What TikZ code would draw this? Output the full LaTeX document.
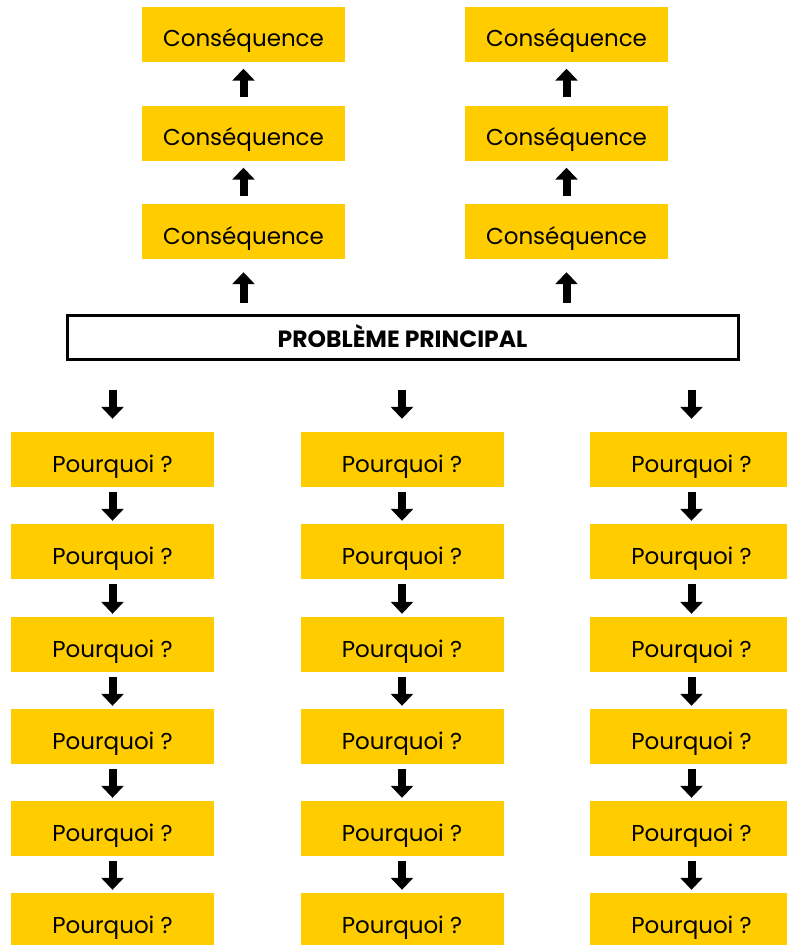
\documentclass[tikz,border=0pt]{standalone}
\usepackage{fontspec}
\setmainfont{Poppins}
\usepackage{tikz}
\usetikzlibrary{arrows.meta}
\definecolor{jaune}{RGB}{255,204,0}

\begin{document}
\begin{tikzpicture}[x=1pt,y=-1pt,
    box/.style={fill=jaune,inner sep=0pt,minimum width=203pt,minimum height=55pt,
        font=\fontsize{23}{26}\selectfont,text height=25pt,text depth=0pt},
    probbox/.style={draw=black,line width=3pt,fill=white,inner sep=0pt,minimum width=671pt,minimum height=44pt,
        font=\fontsize{23.5}{26}\selectfont\bfseries,text height=20pt,text depth=0pt},
    blk/.style={line width=8pt,-{Triangle[width=22pt,length=12pt]}}]
        \useasboundingbox (0,0) rectangle (787,945);
        \node[box] (Cons_l1) at (243.5,34) {Conséquence};
        \node[box] (Cons_l2) at (243.5,133) {Conséquence};
        \node[box] (Cons_l3) at (243.5,231.5) {Conséquence};
        \node[box] (Cons_r1) at (566.5,34) {Conséquence};
        \node[box] (Cons_r2) at (566.5,133) {Conséquence};
        \node[box] (Cons_r3) at (566.5,231.5) {Conséquence};
        \node[probbox] (Problem) at (402.5,337) {PROBLÈME PRINCIPAL};
        \node[box] (Why_l1) at (112.5,459.5) {Pourquoi ?};
        \node[box] (Why_l2) at (112.5,551.5) {Pourquoi ?};
        \node[box] (Why_l3) at (112.5,644.5) {Pourquoi ?};
        \node[box] (Why_l4) at (112.5,736.5) {Pourquoi ?};
        \node[box] (Why_l5) at (112.5,828.5) {Pourquoi ?};
        \node[box] (Why_l6) at (112.5,920.5) {Pourquoi ?};
        \node[box] (Why_m1) at (402,459.5) {Pourquoi ?};
        \node[box] (Why_m2) at (402,551.5) {Pourquoi ?};
        \node[box] (Why_m3) at (402,644.5) {Pourquoi ?};
        \node[box] (Why_m4) at (402,736.5) {Pourquoi ?};
        \node[box] (Why_m5) at (402,828.5) {Pourquoi ?};
        \node[box] (Why_m6) at (402,920.5) {Pourquoi ?};
        \node[box] (Why_r1) at (691.5,459.5) {Pourquoi ?};
        \node[box] (Why_r2) at (691.5,551.5) {Pourquoi ?};
        \node[box] (Why_r3) at (691.5,644.5) {Pourquoi ?};
        \node[box] (Why_r4) at (691.5,736.5) {Pourquoi ?};
        \node[box] (Why_r5) at (691.5,828.5) {Pourquoi ?};
        \node[box] (Why_r6) at (691.5,920.5) {Pourquoi ?};
        \draw[blk,shorten <=11pt,shorten >=13pt] (Cons_l3.south |- Problem.north) -- (Cons_l3.south);
        \draw[blk,shorten <=11pt,shorten >=13pt] (Cons_r3.south |- Problem.north) -- (Cons_r3.south);
        \draw[blk,shorten <=8pt,shorten >=7pt] (Cons_l3) -- (Cons_l2);
        \draw[blk,shorten <=8pt,shorten >=7pt] (Cons_l2) -- (Cons_l1);
        \draw[blk,shorten <=8pt,shorten >=7pt] (Cons_r3) -- (Cons_r2);
        \draw[blk,shorten <=8pt,shorten >=7pt] (Cons_r2) -- (Cons_r1);
        \draw[blk,shorten <=29pt,shorten >=13pt] (Why_l1.north |- Problem.south) -- (Why_l1.north);
        \draw[blk,shorten <=29pt,shorten >=13pt] (Why_m1.north |- Problem.south) -- (Why_m1.north);
        \draw[blk,shorten <=29pt,shorten >=13pt] (Why_r1.north |- Problem.south) -- (Why_r1.north);
        \draw[blk,shorten <=5pt,shorten >=3pt] (Why_l1) -- (Why_l2);
        \draw[blk,shorten <=5pt,shorten >=3pt] (Why_l2) -- (Why_l3);
        \draw[blk,shorten <=5pt,shorten >=3pt] (Why_l3) -- (Why_l4);
        \draw[blk,shorten <=5pt,shorten >=3pt] (Why_l4) -- (Why_l5);
        \draw[blk,shorten <=5pt,shorten >=3pt] (Why_l5) -- (Why_l6);
        \draw[blk,shorten <=5pt,shorten >=3pt] (Why_m1) -- (Why_m2);
        \draw[blk,shorten <=5pt,shorten >=3pt] (Why_m2) -- (Why_m3);
        \draw[blk,shorten <=5pt,shorten >=3pt] (Why_m3) -- (Why_m4);
        \draw[blk,shorten <=5pt,shorten >=3pt] (Why_m4) -- (Why_m5);
        \draw[blk,shorten <=5pt,shorten >=3pt] (Why_m5) -- (Why_m6);
        \draw[blk,shorten <=5pt,shorten >=3pt] (Why_r1) -- (Why_r2);
        \draw[blk,shorten <=5pt,shorten >=3pt] (Why_r2) -- (Why_r3);
        \draw[blk,shorten <=5pt,shorten >=3pt] (Why_r3) -- (Why_r4);
        \draw[blk,shorten <=5pt,shorten >=3pt] (Why_r4) -- (Why_r5);
        \draw[blk,shorten <=5pt,shorten >=3pt] (Why_r5) -- (Why_r6);
\end{tikzpicture}
\end{document}
